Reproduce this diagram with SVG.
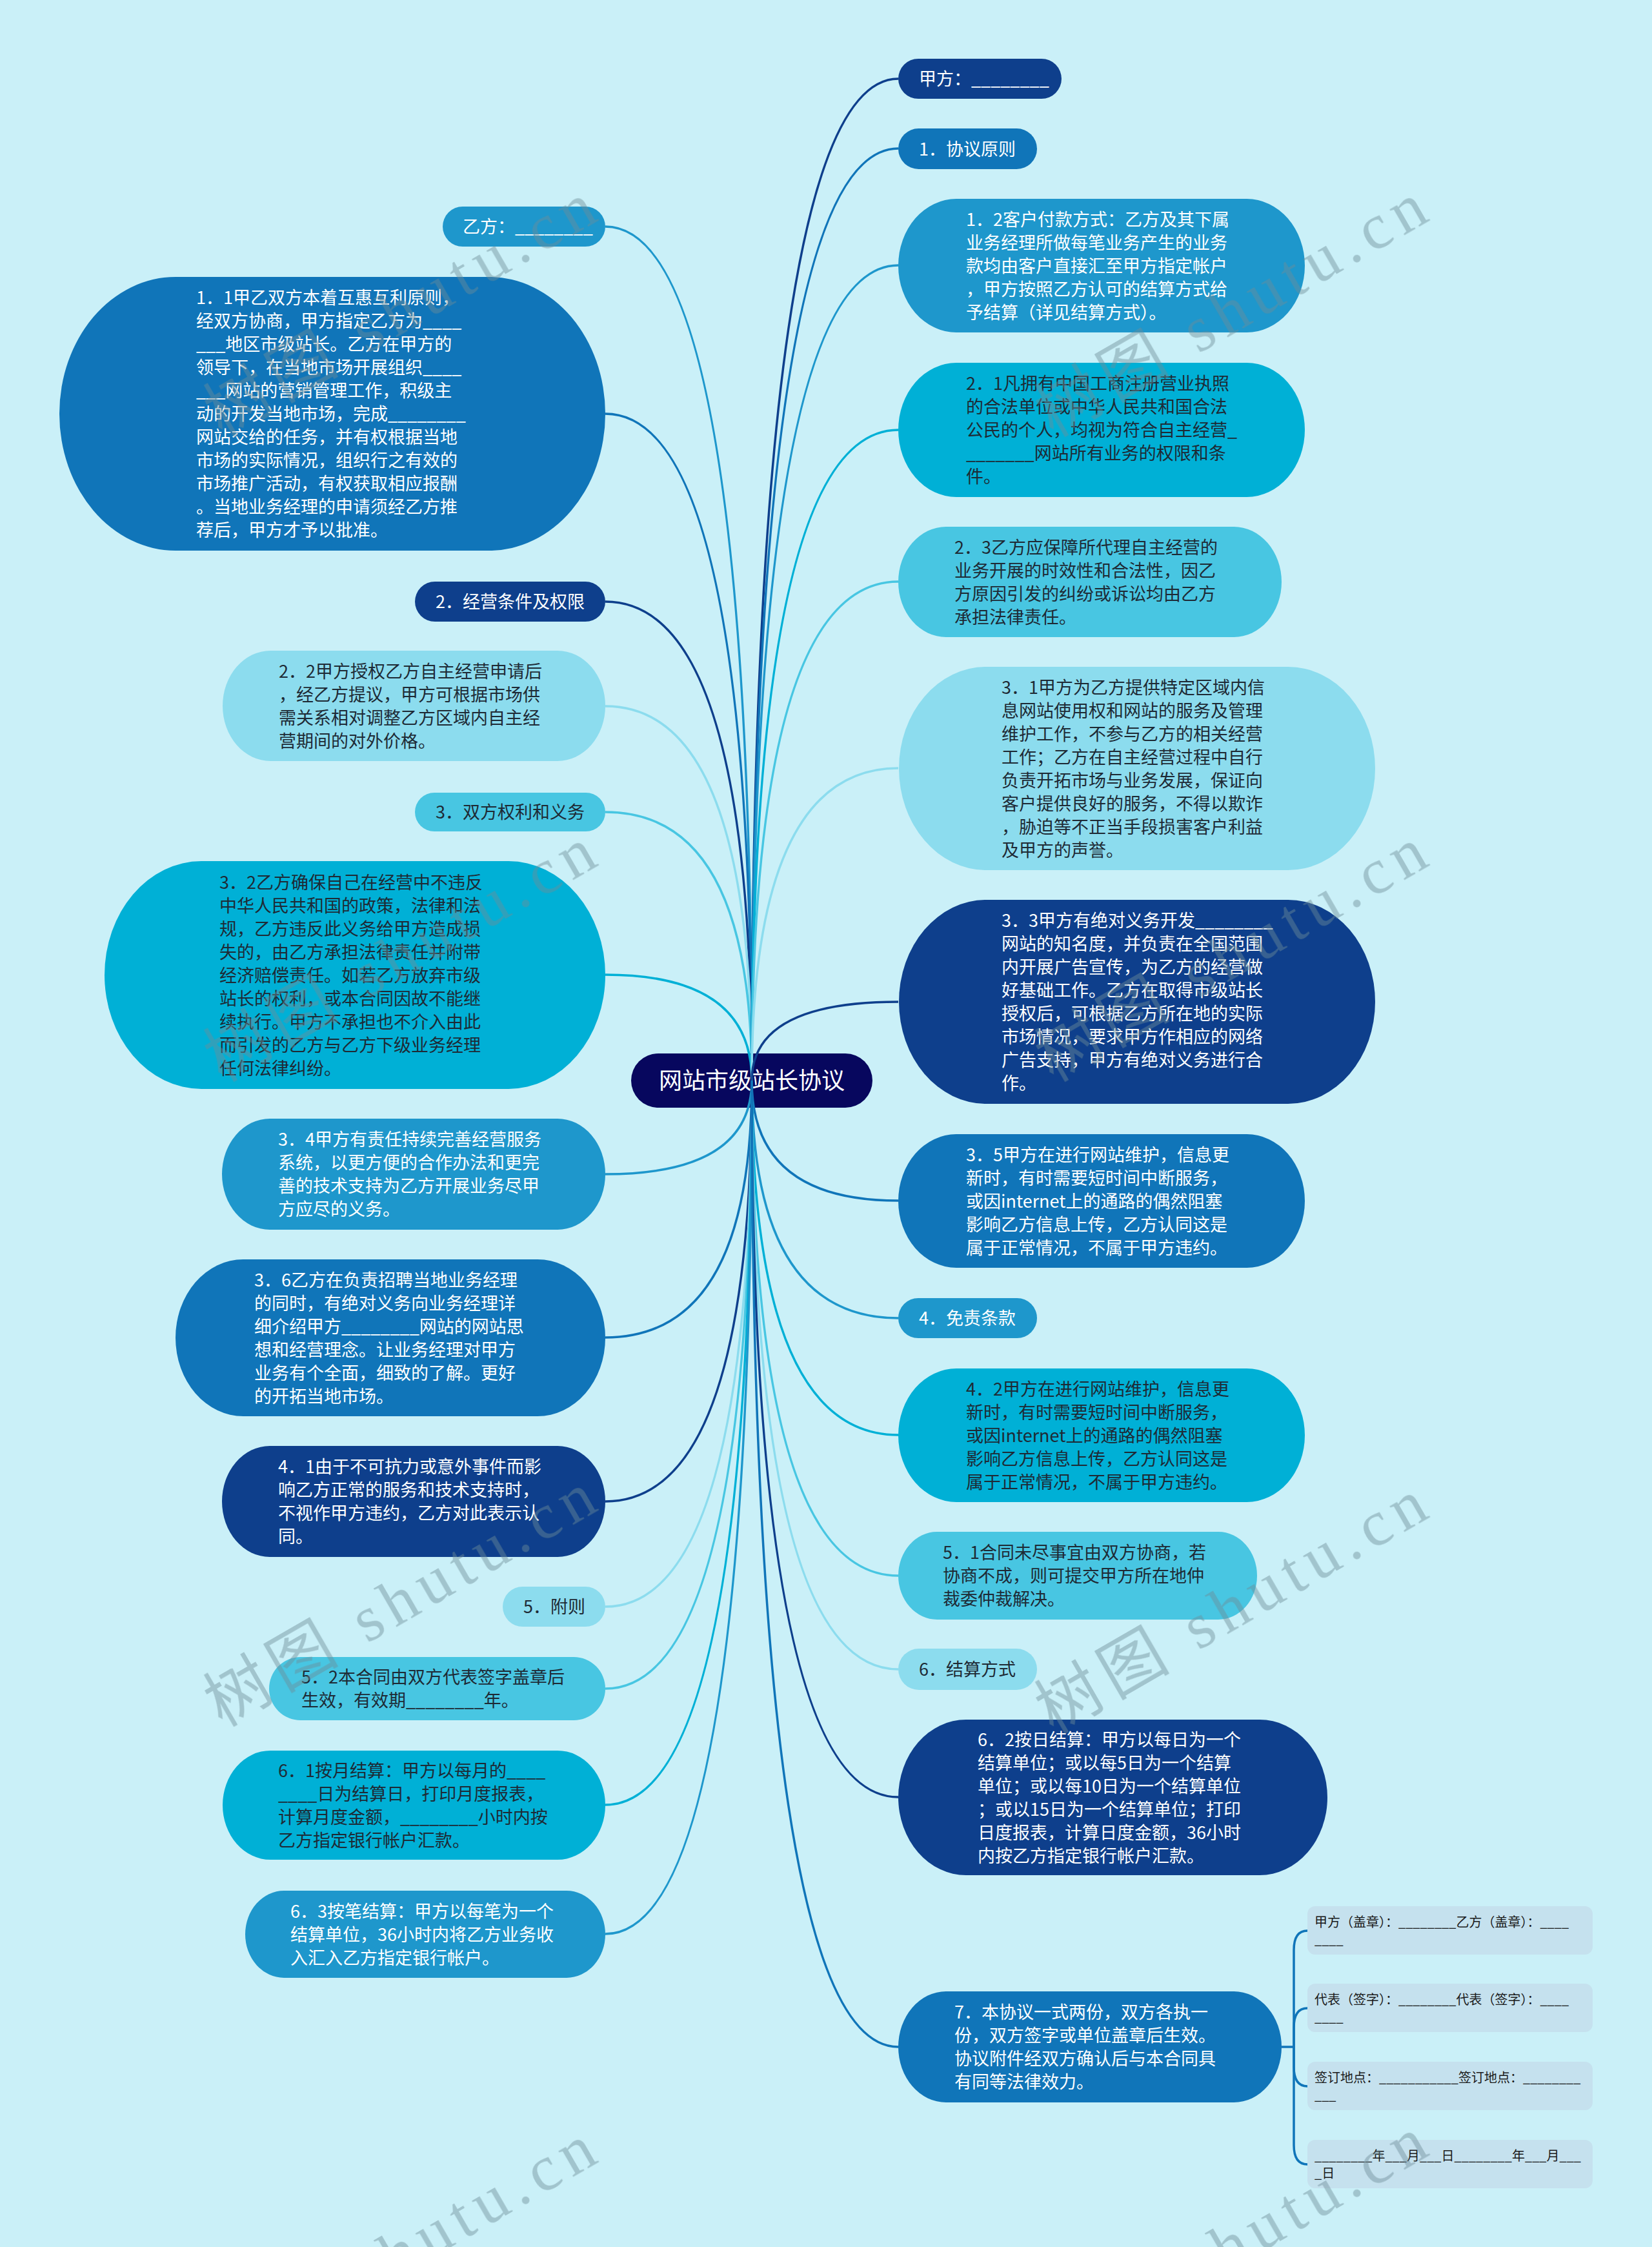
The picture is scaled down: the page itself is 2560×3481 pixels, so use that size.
<svg xmlns="http://www.w3.org/2000/svg" width="2560" height="3481" viewBox="0 0 2560 3481">
<style>
.c1{fill:#0e3f8c}.c2{fill:#1075b9}.c3{fill:#1e97cc}.c4{fill:#00b0d6}.c5{fill:#48c6e2}.c6{fill:#8cdcee}
.s1{stroke:#0e3f8c}.s2{stroke:#1075b9}.s3{stroke:#1e97cc}.s4{stroke:#00b0d6}.s5{stroke:#48c6e2}.s6{stroke:#8cdcee}
#connectors path{fill:none;stroke-width:3.5}
text{font-family:"Noto Sans CJK SC","Liberation Sans",sans-serif;font-size:27px}
.tw{fill:#ffffff}.td{fill:#1e2a35}
.box{fill:#c5e1ee}
.bt{font-size:20px;fill:#1a1a1a}
.wm{font-family:"Liberation Serif","Noto Sans CJK SC",serif;font-size:100px;fill:#6f8e98}
</style>
<rect x="0" y="0" width="2560" height="3481" fill="#caf0f8"/>
<g id="root">
<rect x="978" y="1632" width="374" height="84" rx="42" fill="#07075e"/>
<text x="1165" y="1687" text-anchor="middle" style="font-size:36px" class="tw">网站市级站长协议</text>
</g>
<g id="connectors">
<path class="s3" d="M1165 1674 Q1165 351 938 351"/>
<path class="s2" d="M1165 1674 Q1165 641 938 641"/>
<path class="s1" d="M1165 1674 Q1165 932 938 932"/>
<path class="s6" d="M1165 1674 Q1165 1094 938 1094"/>
<path class="s5" d="M1165 1674 Q1165 1258 938 1258"/>
<path class="s4" d="M1165 1674 Q1165 1510 938 1510"/>
<path class="s3" d="M1165 1674 Q1165 1819 938 1819"/>
<path class="s2" d="M1165 1674 Q1165 2072 938 2072"/>
<path class="s1" d="M1165 1674 Q1165 2326 938 2326"/>
<path class="s6" d="M1165 1674 Q1165 2489 938 2489"/>
<path class="s5" d="M1165 1674 Q1165 2616 938 2616"/>
<path class="s4" d="M1165 1674 Q1165 2796 938 2796"/>
<path class="s3" d="M1165 1674 Q1165 2996 938 2996"/>
<path class="s1" d="M1165 1674 Q1165 122 1392 122"/>
<path class="s2" d="M1165 1674 Q1165 230 1392 230"/>
<path class="s3" d="M1165 1674 Q1165 411 1392 411"/>
<path class="s4" d="M1165 1674 Q1165 666 1392 666"/>
<path class="s5" d="M1165 1674 Q1165 901 1392 901"/>
<path class="s6" d="M1165 1674 Q1165 1190 1392 1190"/>
<path class="s1" d="M1165 1674 Q1165 1552 1392 1552"/>
<path class="s2" d="M1165 1674 Q1165 1860 1392 1860"/>
<path class="s3" d="M1165 1674 Q1165 2042 1392 2042"/>
<path class="s4" d="M1165 1674 Q1165 2223 1392 2223"/>
<path class="s5" d="M1165 1674 Q1165 2441 1392 2441"/>
<path class="s6" d="M1165 1674 Q1165 2586 1392 2586"/>
<path class="s1" d="M1165 1674 Q1165 2784 1392 2784"/>
<path class="s2" d="M1165 1674 Q1165 3171 1392 3171"/>
<path class="s2" d="M1986 3171 L2005 3171"/>
<path class="s2" d="M2005 3171 L2005 3021 Q2005 2991 2026 2991"/>
<path class="s2" d="M2005 3171 L2005 3141 Q2005 3111 2026 3111"/>
<path class="s2" d="M2005 3171 L2005 3202 Q2005 3232 2026 3232"/>
<path class="s2" d="M2005 3171 L2005 3323 Q2005 3353 2026 3353"/>
</g>
<g id="n-yifang">
<rect class="c3" x="686" y="320" width="252" height="62" rx="31"/>
<text class="tw" x="717" y="361">乙方：________</text>
</g>
<g id="n-1-1">
<rect class="c2" x="92" y="429" width="846" height="424" rx="180" ry="212"/>
<text class="tw"><tspan x="304" y="471">1．1甲乙双方本着互惠互利原则，</tspan><tspan x="304" y="507">经双方协商，甲方指定乙方为____</tspan><tspan x="304" y="543">___地区市级站长。乙方在甲方的</tspan><tspan x="304" y="579">领导下，在当地市场开展组织____</tspan><tspan x="304" y="615">___网站的营销管理工作，积级主</tspan><tspan x="304" y="651">动的开发当地市场，完成________</tspan><tspan x="304" y="687">网站交给的任务，并有权根据当地</tspan><tspan x="304" y="723">市场的实际情况，组织行之有效的</tspan><tspan x="304" y="759">市场推广活动，有权获取相应报酬</tspan><tspan x="304" y="795">。当地业务经理的申请须经乙方推</tspan><tspan x="304" y="831">荐后，甲方才予以批准。</tspan></text>
</g>
<g id="n-2">
<rect class="c1" x="643" y="901" width="295" height="62" rx="31"/>
<text class="tw" x="675" y="942">2．经营条件及权限</text>
</g>
<g id="n-2-2">
<rect class="c6" x="345" y="1008" width="593" height="171" rx="74" ry="85.5"/>
<text class="td"><tspan x="432" y="1049.5">2．2甲方授权乙方自主经营申请后</tspan><tspan x="432" y="1085.5">，经乙方提议，甲方可根据市场供</tspan><tspan x="432" y="1121.5">需关系相对调整乙方区域内自主经</tspan><tspan x="432" y="1157.5">营期间的对外价格。</tspan></text>
</g>
<g id="n-3">
<rect class="c5" x="643" y="1228" width="295" height="60" rx="30"/>
<text class="td" x="675" y="1268">3．双方权利和义务</text>
</g>
<g id="n-3-2">
<rect class="c4" x="162" y="1334" width="776" height="353" rx="150" ry="176.5"/>
<text class="td"><tspan x="340" y="1376.5">3．2乙方确保自己在经营中不违反</tspan><tspan x="340" y="1412.5">中华人民共和国的政策，法律和法</tspan><tspan x="340" y="1448.5">规，乙方违反此义务给甲方造成损</tspan><tspan x="340" y="1484.5">失的，由乙方承担法律责任并附带</tspan><tspan x="340" y="1520.5">经济赔偿责任。如若乙方放弃市级</tspan><tspan x="340" y="1556.5">站长的权利，或本合同因故不能继</tspan><tspan x="340" y="1592.5">续执行。甲方不承担也不介入由此</tspan><tspan x="340" y="1628.5">而引发的乙方与乙方下级业务经理</tspan><tspan x="340" y="1664.5">任何法律纠纷。</tspan></text>
</g>
<g id="n-3-4">
<rect class="c3" x="344" y="1733" width="594" height="172" rx="74" ry="86"/>
<text class="tw"><tspan x="431" y="1775">3．4甲方有责任持续完善经营服务</tspan><tspan x="431" y="1811">系统，以更方便的合作办法和更完</tspan><tspan x="431" y="1847">善的技术支持为乙方开展业务尽甲</tspan><tspan x="431" y="1883">方应尽的义务。</tspan></text>
</g>
<g id="n-3-6">
<rect class="c2" x="272" y="1951" width="666" height="243" rx="105" ry="121.5"/>
<text class="tw"><tspan x="394" y="1992.5">3．6乙方在负责招聘当地业务经理</tspan><tspan x="394" y="2028.5">的同时，有绝对义务向业务经理详</tspan><tspan x="394" y="2064.5">细介绍甲方________网站的网站思</tspan><tspan x="394" y="2100.5">想和经营理念。让业务经理对甲方</tspan><tspan x="394" y="2136.5">业务有个全面，细致的了解。更好</tspan><tspan x="394" y="2172.5">的开拓当地市场。</tspan></text>
</g>
<g id="n-4-1">
<rect class="c1" x="344" y="2240" width="594" height="172" rx="74" ry="86"/>
<text class="tw"><tspan x="431" y="2282">4．1由于不可抗力或意外事件而影</tspan><tspan x="431" y="2318">响乙方正常的服务和技术支持时，</tspan><tspan x="431" y="2354">不视作甲方违约，乙方对此表示认</tspan><tspan x="431" y="2390">同。</tspan></text>
</g>
<g id="n-5">
<rect class="c6" x="779" y="2458" width="159" height="62" rx="31"/>
<text class="td" x="811" y="2499">5．附则</text>
</g>
<g id="n-5-2">
<rect class="c5" x="417" y="2567" width="521" height="98" rx="49"/>
<text class="td"><tspan x="467" y="2608">5．2本合同由双方代表签字盖章后</tspan><tspan x="467" y="2644">生效，有效期________年。</tspan></text>
</g>
<g id="n-6-1">
<rect class="c4" x="345" y="2712" width="593" height="169" rx="74" ry="84.5"/>
<text class="td"><tspan x="431" y="2752.5">6．1按月结算：甲方以每月的____</tspan><tspan x="431" y="2788.5">____日为结算日，打印月度报表，</tspan><tspan x="431" y="2824.5">计算月度金额，________小时内按</tspan><tspan x="431" y="2860.5">乙方指定银行帐户汇款。</tspan></text>
</g>
<g id="n-6-3">
<rect class="c3" x="380" y="2929" width="558" height="135" rx="60" ry="67.5"/>
<text class="tw"><tspan x="450" y="2970.5">6．3按笔结算：甲方以每笔为一个</tspan><tspan x="450" y="3006.5">结算单位，36小时内将乙方业务收</tspan><tspan x="450" y="3042.5">入汇入乙方指定银行帐户。</tspan></text>
</g>
<g id="n-jiafang">
<rect class="c1" x="1392" y="91" width="253" height="62" rx="31"/>
<text class="tw" x="1424" y="132">甲方：________</text>
</g>
<g id="n-1">
<rect class="c2" x="1392" y="199" width="215" height="63" rx="31.5"/>
<text class="tw" x="1424" y="240.5">1．协议原则</text>
</g>
<g id="n-1-2">
<rect class="c3" x="1392" y="308" width="630" height="207" rx="90" ry="103.5"/>
<text class="tw"><tspan x="1497" y="349.5">1．2客户付款方式：乙方及其下属</tspan><tspan x="1497" y="385.5">业务经理所做每笔业务产生的业务</tspan><tspan x="1497" y="421.5">款均由客户直接汇至甲方指定帐户</tspan><tspan x="1497" y="457.5">，甲方按照乙方认可的结算方式给</tspan><tspan x="1497" y="493.5">予结算（详见结算方式）。</tspan></text>
</g>
<g id="n-2-1">
<rect class="c4" x="1392" y="562" width="630" height="208" rx="90" ry="104"/>
<text class="td"><tspan x="1497" y="604">2．1凡拥有中国工商注册营业执照</tspan><tspan x="1497" y="640">的合法单位或中华人民共和国合法</tspan><tspan x="1497" y="676">公民的个人，均视为符合自主经营_</tspan><tspan x="1497" y="712">_______网站所有业务的权限和条</tspan><tspan x="1497" y="748">件。</tspan></text>
</g>
<g id="n-2-3">
<rect class="c5" x="1392" y="816" width="594" height="171" rx="74" ry="85.5"/>
<text class="td"><tspan x="1479" y="857.5">2．3乙方应保障所代理自主经营的</tspan><tspan x="1479" y="893.5">业务开展的时效性和合法性，因乙</tspan><tspan x="1479" y="929.5">方原因引发的纠纷或诉讼均由乙方</tspan><tspan x="1479" y="965.5">承担法律责任。</tspan></text>
</g>
<g id="n-3-1">
<rect class="c6" x="1393" y="1033" width="738" height="315" rx="135" ry="157.5"/>
<text class="td"><tspan x="1552" y="1074.5">3．1甲方为乙方提供特定区域内信</tspan><tspan x="1552" y="1110.5">息网站使用权和网站的服务及管理</tspan><tspan x="1552" y="1146.5">维护工作，不参与乙方的相关经营</tspan><tspan x="1552" y="1182.5">工作；乙方在自主经营过程中自行</tspan><tspan x="1552" y="1218.5">负责开拓市场与业务发展，保证向</tspan><tspan x="1552" y="1254.5">客户提供良好的服务，不得以欺诈</tspan><tspan x="1552" y="1290.5">，胁迫等不正当手段损害客户利益</tspan><tspan x="1552" y="1326.5">及甲方的声誉。</tspan></text>
</g>
<g id="n-3-3">
<rect class="c1" x="1393" y="1394" width="738" height="316" rx="135" ry="158"/>
<text class="tw"><tspan x="1552" y="1436">3．3甲方有绝对义务开发________</tspan><tspan x="1552" y="1472">网站的知名度，并负责在全国范围</tspan><tspan x="1552" y="1508">内开展广告宣传，为乙方的经营做</tspan><tspan x="1552" y="1544">好基础工作。乙方在取得市级站长</tspan><tspan x="1552" y="1580">授权后，可根据乙方所在地的实际</tspan><tspan x="1552" y="1616">市场情况，要求甲方作相应的网络</tspan><tspan x="1552" y="1652">广告支持，甲方有绝对义务进行合</tspan><tspan x="1552" y="1688">作。</tspan></text>
</g>
<g id="n-3-5">
<rect class="c2" x="1392" y="1757" width="630" height="207" rx="90" ry="103.5"/>
<text class="tw"><tspan x="1497" y="1798.5">3．5甲方在进行网站维护，信息更</tspan><tspan x="1497" y="1834.5">新时，有时需要短时间中断服务，</tspan><tspan x="1497" y="1870.5">或因internet上的通路的偶然阻塞</tspan><tspan x="1497" y="1906.5">影响乙方信息上传，乙方认同这是</tspan><tspan x="1497" y="1942.5">属于正常情况，不属于甲方违约。</tspan></text>
</g>
<g id="n-4">
<rect class="c3" x="1392" y="2011" width="215" height="62" rx="31"/>
<text class="tw" x="1424" y="2052">4．免责条款</text>
</g>
<g id="n-4-2">
<rect class="c4" x="1392" y="2120" width="630" height="207" rx="90" ry="103.5"/>
<text class="td"><tspan x="1497" y="2161.5">4．2甲方在进行网站维护，信息更</tspan><tspan x="1497" y="2197.5">新时，有时需要短时间中断服务，</tspan><tspan x="1497" y="2233.5">或因internet上的通路的偶然阻塞</tspan><tspan x="1497" y="2269.5">影响乙方信息上传，乙方认同这是</tspan><tspan x="1497" y="2305.5">属于正常情况，不属于甲方违约。</tspan></text>
</g>
<g id="n-5-1">
<rect class="c5" x="1392" y="2373" width="556" height="136" rx="60" ry="68"/>
<text class="td"><tspan x="1461" y="2415">5．1合同未尽事宜由双方协商，若</tspan><tspan x="1461" y="2451">协商不成，则可提交甲方所在地仲</tspan><tspan x="1461" y="2487">裁委仲裁解决。</tspan></text>
</g>
<g id="n-6">
<rect class="c6" x="1392" y="2554" width="215" height="64" rx="32"/>
<text class="td" x="1424" y="2596">6．结算方式</text>
</g>
<g id="n-6-2">
<rect class="c1" x="1392" y="2664" width="665" height="241" rx="105" ry="120.5"/>
<text class="tw"><tspan x="1515" y="2704.5">6．2按日结算：甲方以每日为一个</tspan><tspan x="1515" y="2740.5">结算单位；或以每5日为一个结算</tspan><tspan x="1515" y="2776.5">单位；或以每10日为一个结算单位</tspan><tspan x="1515" y="2812.5">；或以15日为一个结算单位；打印</tspan><tspan x="1515" y="2848.5">日度报表，计算日度金额，36小时</tspan><tspan x="1515" y="2884.5">内按乙方指定银行帐户汇款。</tspan></text>
</g>
<g id="n-7">
<rect class="c2" x="1392" y="3085" width="594" height="172" rx="74" ry="86"/>
<text class="tw"><tspan x="1479" y="3127">7．本协议一式两份，双方各执一</tspan><tspan x="1479" y="3163">份，双方签字或单位盖章后生效。</tspan><tspan x="1479" y="3199">协议附件经双方确认后与本合同具</tspan><tspan x="1479" y="3235">有同等法律效力。</tspan></text>
</g>
<g id="n-7-1">
<rect class="box" x="2026" y="2953" width="442" height="75" rx="12"/>
<text class="bt"><tspan x="2037" y="2985">甲方（盖章）：________乙方（盖章）：____</tspan><tspan x="2037" y="3012">____</tspan></text>
</g>
<g id="n-7-2">
<rect class="box" x="2026" y="3073" width="442" height="75" rx="12"/>
<text class="bt"><tspan x="2037" y="3105">代表（签字）：________代表（签字）：____</tspan><tspan x="2037" y="3132">____</tspan></text>
</g>
<g id="n-7-3">
<rect class="box" x="2026" y="3194" width="442" height="75" rx="12"/>
<text class="bt"><tspan x="2037" y="3226">签订地点：___________签订地点：________</tspan><tspan x="2037" y="3253">___</tspan></text>
</g>
<g id="n-7-4">
<rect class="box" x="2026" y="3315" width="442" height="75" rx="12"/>
<text class="bt"><tspan x="2037" y="3347">________年___月___日________年___月___</tspan><tspan x="2037" y="3374">_日</tspan></text>
</g>
<g id="watermark" opacity="0.45">
<text class="wm" x="344" y="678" transform="rotate(-30 344 678)" textLength="676" lengthAdjust="spacing">树图 shutu.cn</text>
<text class="wm" x="1632" y="678" transform="rotate(-30 1632 678)" textLength="676" lengthAdjust="spacing">树图 shutu.cn</text>
<text class="wm" x="344" y="1677" transform="rotate(-30 344 1677)" textLength="676" lengthAdjust="spacing">树图 shutu.cn</text>
<text class="wm" x="1632" y="1677" transform="rotate(-30 1632 1677)" textLength="676" lengthAdjust="spacing">树图 shutu.cn</text>
<text class="wm" x="344" y="2676" transform="rotate(-30 344 2676)" textLength="676" lengthAdjust="spacing">树图 shutu.cn</text>
<text class="wm" x="1632" y="2687" transform="rotate(-30 1632 2687)" textLength="676" lengthAdjust="spacing">树图 shutu.cn</text>
<text class="wm" x="344" y="3686" transform="rotate(-30 344 3686)" textLength="676" lengthAdjust="spacing">树图 shutu.cn</text>
<text class="wm" x="1632" y="3675" transform="rotate(-30 1632 3675)" textLength="676" lengthAdjust="spacing">树图 shutu.cn</text>
</g>
</svg>
